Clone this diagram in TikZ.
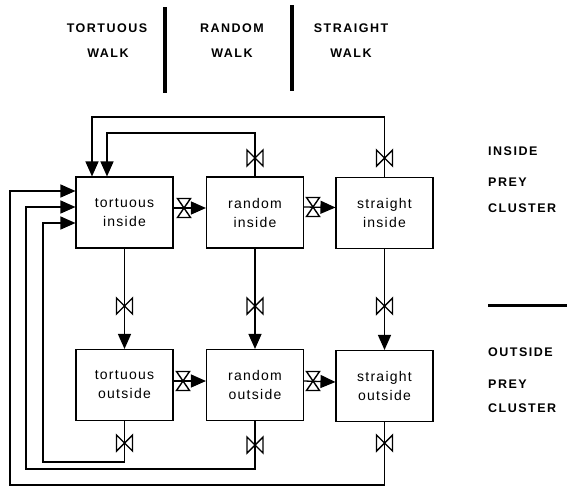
\documentclass[tikz,border=0pt]{standalone}
\usepackage{fontspec}
\setmainfont{Liberation Sans}
\newfontfamily\headfont[LetterSpace=12]{Liberation Sans}
\newfontfamily\boxfont[LetterSpace=9]{Liberation Sans}
\usetikzlibrary{arrows.meta}

\tikzset{
  stock/.style={draw, line width=1.1pt, minimum width=97pt, minimum height=71pt,
    inner sep=0pt, align=center, font=\boxfont\fontsize{14}{19}\selectfont},
  pipe/.style={line width=1.3pt, -{Triangle[length=15pt,width=13pt]}},
  header/.style={font=\headfont\bfseries\fontsize{12.5}{15}\selectfont, inner sep=0pt},
  divider/.style={line width=3.5pt},
  % rate valve on a vertical flow
  bowtie/.pic={\draw[line width=1.4pt, fill=white, line join=miter]
      (-8,-8) -- (-8,8) -- (0,0) -- cycle
      (8,-8) -- (8,8) -- (0,0) -- cycle;},
  % rate valve on a horizontal flow
  hourglass/.pic={\draw[line width=1.4pt, fill=white, line join=miter]
      (-6.5,-9.5) -- (6.5,-9.5) -- (0,0) -- cycle
      (-6.5,9.5) -- (6.5,9.5) -- (0,0) -- cycle;}
}

\begin{document}
\begin{tikzpicture}[x=1pt, y=-1pt]
\fill[white] (0,0) rectangle (567,488);
\useasboundingbox (0,0) rectangle (567,488);

% column headings
\node[header] (hT1) at (107,28) {TORTUOUS};
\node[header] (hT2) at (108,53) {WALK};
\node[header] (hR1) at (232,28) {RANDOM};
\node[header] (hR2) at (232,53) {WALK};
\node[header] (hS1) at (351,28) {STRAIGHT};
\node[header] (hS2) at (351,53) {WALK};
\draw[divider] (165,7) -- (165,93);
\draw[divider] (292,5) -- (292,91);

% row headings
\node[header, anchor=west] (rI1) at (488,151.5) {INSIDE};
\node[header, anchor=west] (rI2) at (488,182) {PREY};
\node[header, anchor=west] (rI3) at (488,208) {CLUSTER};
\draw[line width=3pt] (488,305) -- (567,305);
\node[header, anchor=west] (rO1) at (488,352) {OUTSIDE};
\node[header, anchor=west] (rO2) at (488,384) {PREY};
\node[header, anchor=west] (rO3) at (488,408) {CLUSTER};

% stocks
\node[stock] (ti) at (124.5,212.5) {tortuous\\inside};
\node[stock] (ri) at (255,212.5) {random\\inside};
\node[stock] (si) at (384.5,213) {straight\\inside};
\node[stock] (to) at (124.5,385) {tortuous\\outside};
\node[stock] (ro) at (255,385) {random\\outside};
\node[stock] (so) at (384.5,386) {straight\\outside};

% bends of the return flows
\coordinate (t1) at (92,117);
\coordinate (t2) at (107,133);
\coordinate (l1) at (10,485);
\coordinate (l1t) at (10,191);
\coordinate (l2) at (26,469);
\coordinate (l2t) at (26,207);
\coordinate (l3) at (43,462);
\coordinate (l3t) at (43,223);

% flows
\draw[pipe] (si.north) |- (t1) -- (t1 |- ti.north);
\draw[pipe] (ri.north) |- (t2) -- (t2 |- ti.north);
\draw[pipe] ([yshift=4.5pt]ti.east) -- ([yshift=4.5pt]ri.west);
\draw[pipe] ([yshift=5.5pt]ri.east) -- ([yshift=5.5pt]si.west);
\draw[pipe] ([yshift=4pt]to.east) -- ([yshift=4pt]ro.west);
\draw[pipe] ([yshift=4pt]ro.east) -- ([yshift=4pt]so.west);
\draw[pipe] (ti) -- (to);
\draw[pipe] (ri) -- (ro);
\draw[pipe] (si) -- (so);
\draw[pipe] (so.south) |- (l1) -- (l1t) -- (l1t -| ti.west);
\draw[pipe] (ro.south) |- (l2) -- (l2t) -- (l2t -| ti.west);
\draw[pipe] (to.south) |- (l3) -- (l3t) -- (l3t -| ti.west);

% valves
\pic at (255,158) {bowtie};
\pic at (384.5,158) {bowtie};
\pic at (124.5,306) {bowtie};
\pic at (255,306) {bowtie};
\pic at (384.5,306) {bowtie};
\pic at (124.5,443) {bowtie};
\pic at (255,445) {bowtie};
\pic at (384.5,443) {bowtie};
\pic at (184,208) {hourglass};
\pic at (313,207) {hourglass};
\pic at (183,381) {hourglass};
\pic at (313,381) {hourglass};
\end{tikzpicture}
\end{document}
